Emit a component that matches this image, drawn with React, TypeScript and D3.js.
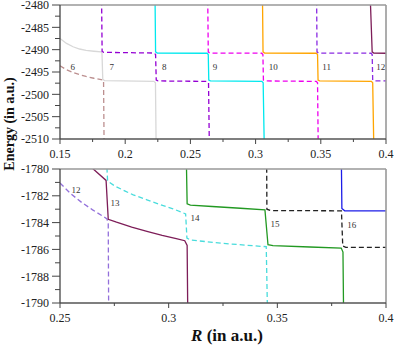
import * as React from 'react';
import * as d3 from 'd3';

const WIDTH = 395;
const HEIGHT = 346;
const LEFT = 60;
const RIGHT = 386;

// ---- top panel: R 0.15..0.4, E -2510..-2480 ----
const topRTicks = [0.15, 0.2, 0.25, 0.3, 0.35, 0.4];
const topRMinor = [0.175, 0.225, 0.275, 0.325, 0.375];
const topETicks = [-2480, -2485, -2490, -2495, -2500, -2505, -2510];
const topEMinor = [-2482.5, -2487.5, -2492.5, -2497.5, -2502.5, -2507.5];

const top6 = [[0.15, -2493.6], [0.155, -2494.5], [0.16, -2495.1], [0.165, -2495.6], [0.17, -2496.0], [0.176, -2496.4], [0.1825, -2496.75], [0.1834, -2496.85], [0.1838, -2511]];
const top7 = [[0.15, -2487.5], [0.155, -2488.6], [0.16, -2489.35], [0.165, -2489.85], [0.17, -2490.15], [0.176, -2490.35], [0.1815, -2490.5], [0.1822, -2490.8], [0.1828, -2496.6], [0.1842, -2496.95], [0.222, -2497.1], [0.2232, -2497.4], [0.2237, -2511]];
const top8 = [[0.1819, -2479], [0.1823, -2490.4], [0.1836, -2490.6], [0.2222, -2490.75], [0.2233, -2491.1], [0.2238, -2496.8], [0.2252, -2497.0], [0.2628, -2497.1], [0.2639, -2497.4], [0.2645, -2511]];
const top9 = [[0.2229, -2479], [0.2233, -2490.5], [0.2246, -2490.75], [0.2628, -2490.8], [0.2637, -2491.1], [0.2641, -2496.8], [0.2653, -2497.0], [0.3048, -2497.1], [0.3058, -2497.4], [0.3066, -2511]];
const top10 = [[0.2633, -2479], [0.2637, -2490.5], [0.2649, -2490.75], [0.3047, -2490.8], [0.3056, -2491.1], [0.306, -2496.8], [0.3072, -2497.0], [0.3465, -2497.1], [0.3475, -2497.4], [0.348, -2511]];
const top11 = [[0.3053, -2479], [0.3057, -2490.5], [0.3069, -2490.75], [0.3466, -2490.8], [0.3475, -2491.1], [0.3479, -2496.8], [0.3491, -2497.0], [0.3888, -2497.1], [0.3898, -2497.4], [0.3906, -2511]];
const top12 = [[0.3468, -2479], [0.3471, -2490.5], [0.3483, -2490.75], [0.3886, -2490.8], [0.3894, -2491.1], [0.3898, -2496.8], [0.391, -2497.0], [0.4, -2497.0]];
const top13 = [[0.388, -2479], [0.3894, -2490.5], [0.3906, -2490.75], [0.4, -2490.8]];

const topLabels = [['6', 0.1597], ['7', 0.1896], ['8', 0.23], ['9', 0.2689], ['10', 0.3136], ['11', 0.3545], ['12', 0.396]];
const topLabelE = -2493.8;

// ---- bottom panel: R 0.25..0.4, E -1790..-1780 ----
const botRTicks = [0.25, 0.3, 0.35, 0.4];
const botRMinor = [0.275, 0.325, 0.375];
const botETicks = [-1780, -1782, -1784, -1786, -1788, -1790];
const botEMinor = [-1781, -1783, -1785, -1787, -1789];

const bot12 = [[0.25, -1781.05], [0.255, -1781.85], [0.26, -1782.5], [0.265, -1783.05], [0.27, -1783.55], [0.2716, -1783.72], [0.2722, -1784.1], [0.2724, -1791]];
const bot13 = [[0.2646, -1779.9], [0.2712, -1780.85], [0.2722, -1783.75], [0.276, -1783.97], [0.283, -1784.33], [0.29, -1784.65], [0.297, -1784.95], [0.3035, -1785.2], [0.3074, -1785.35], [0.3085, -1785.7], [0.3088, -1791]];
const bot14 = [[0.2716, -1779.9], [0.2719, -1780.9], [0.275, -1781.25], [0.28, -1781.65], [0.2837, -1781.93], [0.29, -1782.3], [0.296, -1782.65], [0.302, -1782.97], [0.3078, -1783.35], [0.3084, -1785.15], [0.31, -1785.3], [0.325, -1785.55], [0.3449, -1785.8], [0.3455, -1791]];
const bot15 = [[0.3082, -1779.9], [0.3085, -1782.6], [0.31, -1782.7], [0.32, -1782.8], [0.333, -1782.93], [0.3443, -1783.05], [0.3457, -1785.65], [0.348, -1785.72], [0.365, -1785.82], [0.3794, -1785.9], [0.3802, -1786.2], [0.3805, -1791]];
const bot16 = [[0.3451, -1779.9], [0.3452, -1783.0], [0.3468, -1783.1], [0.3795, -1783.12], [0.3801, -1785.75], [0.3815, -1785.85], [0.4, -1785.85]];
const bot17 = [[0.3795, -1779.9], [0.3797, -1782.95], [0.381, -1783.12], [0.4, -1783.13]];

const botLabels = [['12', 0.2574, -1781.57], ['13', 0.2753, -1782.54], ['14', 0.3121, -1783.66], ['15', 0.3489, -1784.1], ['16', 0.3842, -1784.18]];

const topSeries = [
  { data: top6, color: '#bc8f8f', dash: true },
  { data: top7, color: '#d8d8d8', dash: false },
  { data: top8, color: '#9400d3', dash: true },
  { data: top9, color: '#00e8ee', dash: false },
  { data: top10, color: '#ee00ee', dash: true },
  { data: top11, color: '#ffa500', dash: false },
  { data: top12, color: '#8a2be2', dash: true },
  { data: top13, color: '#7d1d58', dash: false },
];

const botSeries = [
  { data: bot12, color: '#9370db', dash: true },
  { data: bot13, color: '#7d1d58', dash: false },
  { data: bot14, color: '#48dcdc', dash: true },
  { data: bot15, color: '#229922', dash: false },
  { data: bot16, color: '#222222', dash: true },
  { data: bot17, color: '#1c1ce8', dash: false },
];

const FONT = "'Liberation Serif', 'Times New Roman', Times, serif";

function Panel({ id, top, bottom, xDomain, yDomain, xTicks, xMinor, yTicks, yMinor, series, labels }) {
  const x = d3.scaleLinear().domain(xDomain).range([LEFT, RIGHT]);
  const y = d3.scaleLinear().domain(yDomain).range([bottom, top]);
  const line = d3
    .line()
    .x(d => x(d[0]))
    .y(d => y(d[1]));

  return (
    <g>
      <defs>
        <clipPath id={id}>
          <rect x={LEFT} y={top} width={RIGHT - LEFT} height={bottom - top} />
        </clipPath>
      </defs>
      <g clipPath={`url(#${id})`}>
        {series.map((s, i) => (
          <path
            key={i}
            d={line(s.data)}
            fill="none"
            stroke={s.color}
            strokeWidth={1.3}
            strokeDasharray={s.dash ? '5,3' : null}
          />
        ))}
      </g>
      {labels.map((l, i) => (
        <text key={i} x={x(l[1])} y={y(l[2])} dy="0.35em" textAnchor="middle" fontSize={9} fill="#333">
          {l[0]}
        </text>
      ))}
      {/* frame */}
      <line x1={LEFT} x2={RIGHT} y1={top} y2={top} stroke="#999" strokeWidth={1.6} />
      <line x1={RIGHT} x2={RIGHT} y1={top} y2={bottom} stroke="#999" strokeWidth={1.6} />
      <line x1={LEFT} x2={RIGHT} y1={bottom} y2={bottom} stroke="#555" strokeWidth={1.3} />
      <line x1={LEFT} x2={LEFT} y1={top} y2={bottom} stroke="#444" strokeWidth={1.3} />
      {/* x ticks */}
      {xTicks.map(t => (
        <g key={t}>
          <line x1={x(t)} x2={x(t)} y1={bottom} y2={bottom + 5} stroke="#444" />
          <text x={x(t)} y={bottom + 19} textAnchor="middle" fontSize={12} fill="#222">
            {String(t)}
          </text>
        </g>
      ))}
      {xMinor.map(t => (
        <line key={t} x1={x(t)} x2={x(t)} y1={bottom} y2={bottom + 3} stroke="#444" />
      ))}
      {/* y ticks */}
      {yTicks.map(t => (
        <g key={t}>
          <line x1={LEFT - 8} x2={LEFT} y1={y(t)} y2={y(t)} stroke="#444" />
          <text x={LEFT - 11} y={y(t) + 4.3} textAnchor="end" fontSize={12} fill="#222">
            {String(t)}
          </text>
        </g>
      ))}
      {yMinor.map(t => (
        <line key={t} x1={LEFT - 5} x2={LEFT} y1={y(t)} y2={y(t)} stroke="#444" />
      ))}
    </g>
  );
}

export default function App() {
  return (
    <svg
      width={WIDTH}
      height={HEIGHT}
      fontFamily={FONT}
      style={{ position: 'absolute', left: 0, top: 0, background: '#fff' }}
    >
      <Panel
        id="clipTop"
        top={5}
        bottom={139}
        xDomain={[0.15, 0.4]}
        yDomain={[-2510, -2480]}
        xTicks={topRTicks}
        xMinor={topRMinor}
        yTicks={topETicks}
        yMinor={topEMinor}
        series={topSeries}
        labels={topLabels.map(l => [l[0], l[1], topLabelE])}
      />
      <Panel
        id="clipBot"
        top={169}
        bottom={303}
        xDomain={[0.25, 0.4]}
        yDomain={[-1790, -1780]}
        xTicks={botRTicks}
        xMinor={botRMinor}
        yTicks={botETicks}
        yMinor={botEMinor}
        series={botSeries}
        labels={botLabels}
      />
      <text
        transform="translate(13.5,124) rotate(-90)"
        textAnchor="middle"
        fontSize={14}
        fontWeight="bold"
        fill="#111"
      >
        Energy (in a.u.)
      </text>
      <text x={227} y={341} textAnchor="middle" fontSize={17} fontWeight="bold" fill="#111">
        <tspan fontStyle="italic">R</tspan> (in a.u.)
      </text>
    </svg>
  );
}
